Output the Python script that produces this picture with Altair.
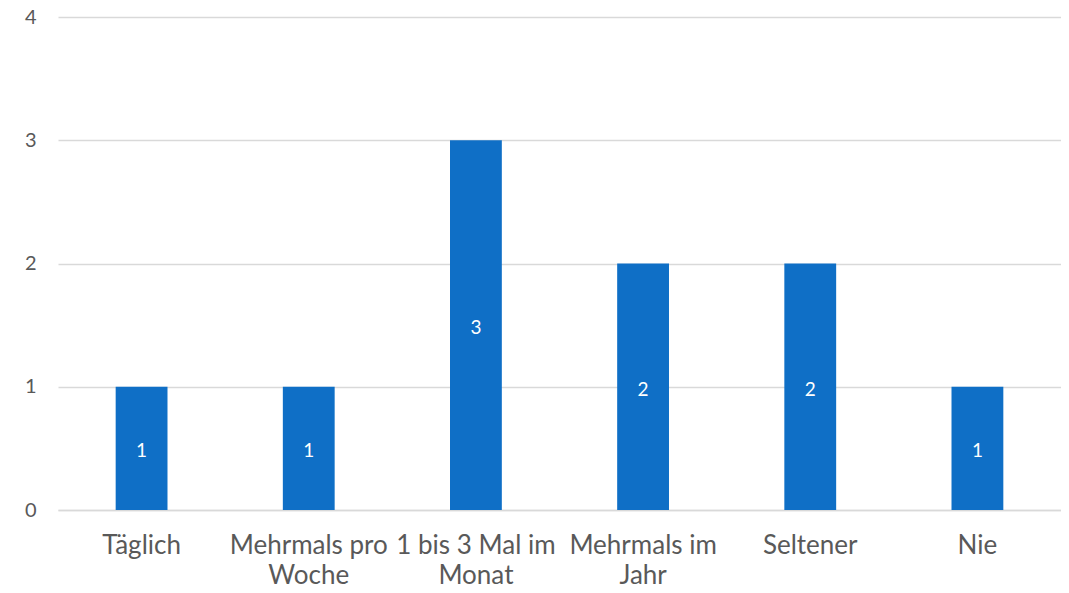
import altair as alt
import pandas as pd

categories = ["Täglich", "Mehrmals pro|Woche", "1 bis 3 Mal im|Monat", "Mehrmals im|Jahr", "Seltener", "Nie"]
values = [1, 1, 3, 2, 2, 1]

df = pd.DataFrame({"cat": categories, "val": values})

FONT = "Lato"
TXT = "#595959"
GRID = "#D9D9D9"
BAR = "#0F6FC6"

x = alt.X("cat:N", sort=categories, title=None,
          scale=alt.Scale(paddingInner=0.69, paddingOuter=0.345),
          axis=alt.Axis(labelAngle=0, labelExpr="split(datum.label, '|')",
                        labelFont=FONT, labelFontSize=26, labelColor=TXT,
                        labelLineHeight=30, labelPadding=22,
                        ticks=False, domainColor=GRID, domainWidth=1.5,
                        grid=False))
y = alt.Y("val:Q", title=None,
          scale=alt.Scale(domain=[0, 4], nice=False),
          axis=alt.Axis(values=[0, 1, 2, 3, 4], format="d",
                        labelFont=FONT, labelFontSize=20, labelColor=TXT,
                        labelPadding=22, ticks=False, domain=False,
                        gridColor=GRID, gridWidth=1.5))

bars = alt.Chart(df).mark_bar(color=BAR).encode(x=x, y=y)
labels = alt.Chart(df).mark_text(color="white", font=FONT, fontSize=19,
                                 baseline="middle", dy=3).encode(
    x=alt.X("cat:N", sort=categories),
    y=alt.Y("mid:Q"),
    text=alt.Text("val:Q", format="d"),
).transform_calculate(mid="datum.val / 2")

chart = (bars + labels).properties(
    width=1003, height=493,
    padding={"left": 50, "top": 9, "right": 0, "bottom": 75},
    autosize=alt.AutoSizeParams(type="none"),
).configure(background="white").configure_view(stroke=None)

chart.save("out.html", embed_options={"renderer": "svg", "actions": False})
